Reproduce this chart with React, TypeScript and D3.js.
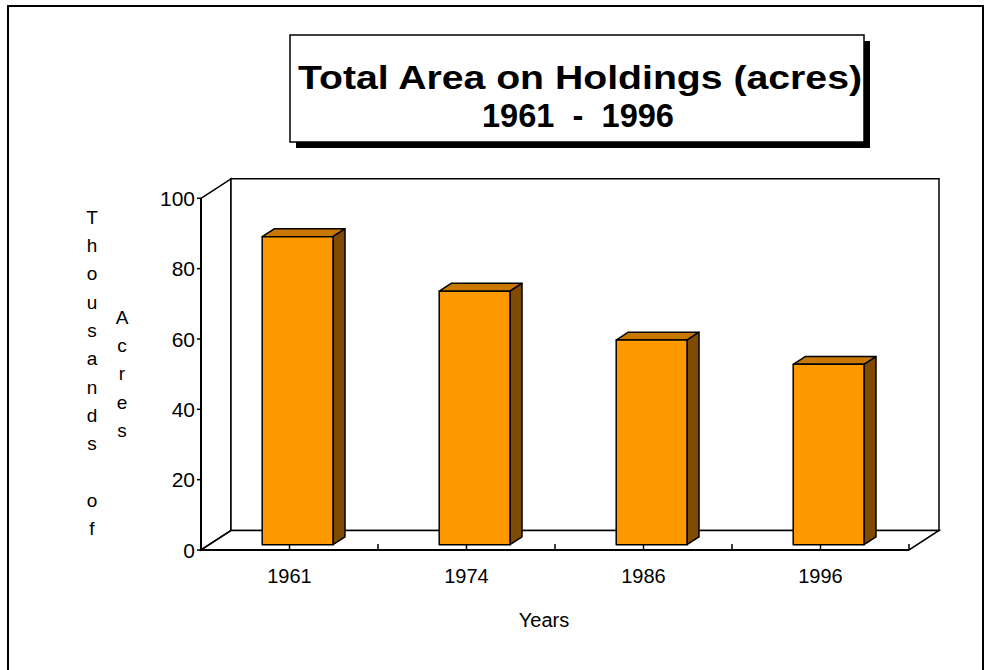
import React from "react";
import * as d3 from "d3";

const categories = ["1961", "1974", "1986", "1996"];
const values = [87.6, 72.1, 58.2, 51.3];
const yTicks = [0, 20, 40, 60, 80, 100];
const titleLines = ["Total Area on Holdings (acres)", "1961  -  1996"];
const yTitle1 = "Thousands of";
const yTitle2 = "Acres";
const xTitle = "Years";

const W = 992;
const H = 670;
const FONT = "'Liberation Sans', Arial, Helvetica, sans-serif";

export default function App() {
  const x0 = 201, x1 = 909, yBase = 550, yTop = 198.3;
  const depth = { dx: 30, dy: -19.5 };
  const x = d3.scaleBand<string>().domain(categories).range([x0, x1]).padding(0);
  const y = d3.scaleLinear().domain([0, 100]).range([yBase, yTop]);
  const d0 = 0.27, d1 = 0.67;
  const barW = x.bandwidth() * 0.4;

  const bars = categories.map((c, i) => {
    const cx = (x(c) as number) + x.bandwidth() / 2;
    const fx = cx - barW / 2 + depth.dx * d0;
    const fyOff = depth.dy * d0;
    const top = y(values[i]) + fyOff;
    const bot = y(0) + fyOff;
    const bdx = depth.dx * (d1 - d0);
    const bdy = depth.dy * (d1 - d0);
    return { c, fx, top, bot, bdx, bdy };
  });

  const pts = (p: number[][]) => p.map((q) => q.join(",")).join(" ");
  const bx0 = x0 + depth.dx, by0 = yBase + depth.dy, byT = yTop + depth.dy, bx1 = x1 + depth.dx;

  const xTickPos: number[] = [];
  categories.forEach((c) => {
    const s = x(c) as number;
    xTickPos.push(s + x.bandwidth() / 2);
    xTickPos.push(s + x.bandwidth());
  });

  return (
    <svg width={W} height={H} style={{ position: "absolute", left: 0, top: 0, background: "#fff" }} fontFamily={FONT}>
      <rect x={0} y={0} width={W} height={H} fill="#fff" />
      <rect x={8} y={6} width={975} height={720} fill="none" stroke="#000" strokeWidth={2} />

      {/* title box */}
      <rect x={296} y={41} width={574} height={107} fill="#000" />
      <rect x={290} y={35} width={574} height={107} fill="#fff" stroke="#000" strokeWidth={1.5} />
      <text x={298} y={89} fontSize={34} fontWeight="bold" fill="#000" textLength={564} lengthAdjust="spacingAndGlyphs">{titleLines[0]}</text>
      <text x={482} y={127} fontSize={34} fontWeight="bold" fill="#000" textLength={192} lengthAdjust="spacingAndGlyphs" style={{ whiteSpace: "pre" }}>{titleLines[1]}</text>

      {/* walls */}
      <polygon points={pts([[x0, yTop], [bx0, byT], [bx0, by0], [x0, yBase]])} fill="#fff" stroke="#000" strokeWidth={1.5} />
      <polygon points={pts([[bx0, byT], [bx1, byT], [bx1, by0], [bx0, by0]])} fill="#fff" stroke="#000" strokeWidth={1.5} />
      <polygon points={pts([[x0, yBase], [bx0, by0], [bx1, by0], [x1, yBase]])} fill="#fff" stroke="#000" strokeWidth={1.5} />

      {xTickPos.map((p, i) => (
        <line key={i} x1={p} x2={p} y1={yBase - 6} y2={yBase} stroke="#000" strokeWidth={1.5} />
      ))}

      {bars.map((b) => (
        <g key={b.c} stroke="#000" strokeWidth={1.5} strokeLinejoin="round">
          <polygon points={pts([[b.fx, b.top], [b.fx + b.bdx, b.top + b.bdy], [b.fx + barW + b.bdx, b.top + b.bdy], [b.fx + barW, b.top]])} fill="#C87800" />
          <polygon points={pts([[b.fx + barW, b.top], [b.fx + barW + b.bdx, b.top + b.bdy], [b.fx + barW + b.bdx, b.bot + b.bdy], [b.fx + barW, b.bot]])} fill="#7F4B00" />
          <rect x={b.fx} y={b.top} width={barW} height={b.bot - b.top} fill="#FF9900" />
        </g>
      ))}

      <line x1={x0} x2={x0} y1={yTop} y2={yBase} stroke="#000" strokeWidth={2} />
      <line x1={x0} x2={x1} y1={yBase} y2={yBase} stroke="#000" strokeWidth={2} />
      {yTicks.map((t) => (
        <g key={t}>
          <line x1={x0 - 4} x2={x0} y1={y(t)} y2={y(t)} stroke="#000" strokeWidth={1.5} />
          <text x={x0 - 6} y={y(t)} dy="0.36em" textAnchor="end" fontSize={21} fill="#000">{t}</text>
        </g>
      ))}

      {categories.map((c) => (
        <text key={c} x={(x(c) as number) + x.bandwidth() / 2} y={583} textAnchor="middle" fontSize={20} fill="#000">{c}</text>
      ))}

      <text x={544} y={627} textAnchor="middle" fontSize={20} fill="#000">{xTitle}</text>

      {yTitle1.split("").map((ch, i) => (
        <text key={"a" + i} x={92} y={217 + i * 28.3} dy="0.36em" textAnchor="middle" fontSize={19} fill="#000">{ch}</text>
      ))}
      {yTitle2.split("").map((ch, i) => (
        <text key={"b" + i} x={122} y={317 + i * 28.3} dy="0.36em" textAnchor="middle" fontSize={19} fill="#000">{ch}</text>
      ))}
    </svg>
  );
}
